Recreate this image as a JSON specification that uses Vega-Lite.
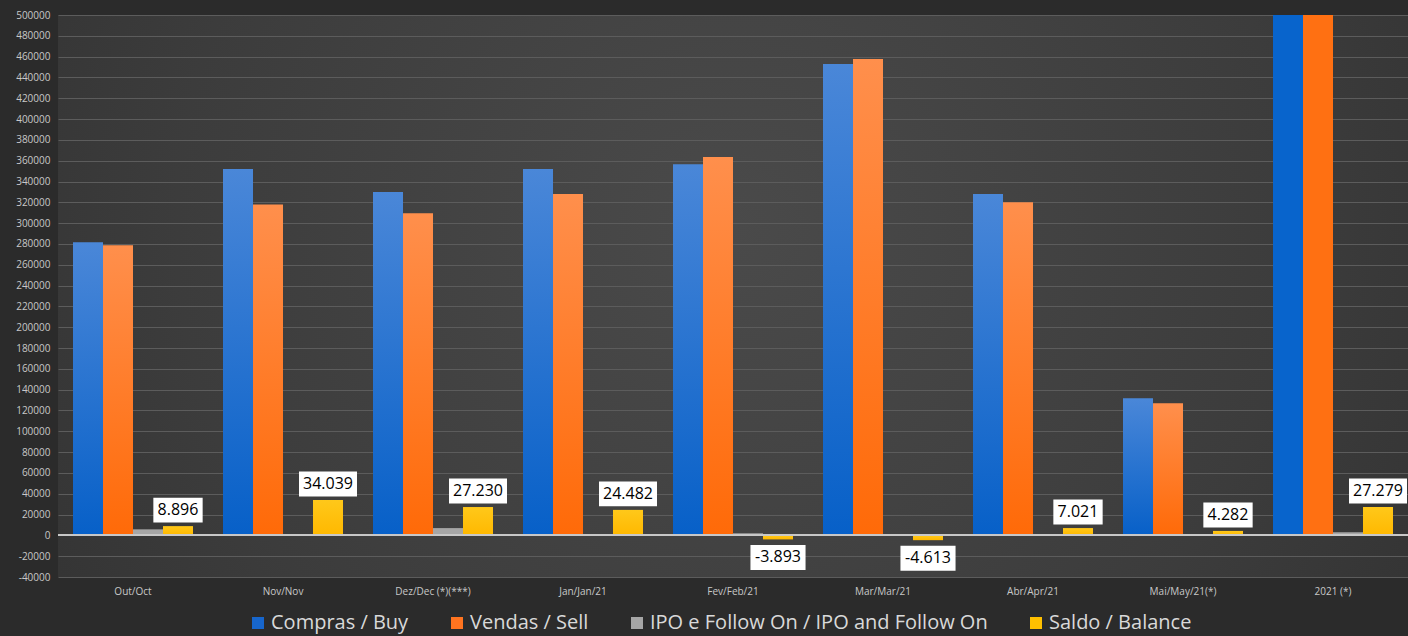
{
  "$schema": "https://vega.github.io/schema/vega-lite/v6.json",
  "width": 1350,
  "height": 562,
  "autosize": {"type": "none"},
  "padding": {"left": 58, "top": 15, "right": 0, "bottom": 59},
  "background": "#2b2b2b",
  "config": {
    "locale": {"number": {"decimal": ",", "thousands": ".", "grouping": [3], "currency": ["", ""], "minus": "-"}},
    "view": {
      "stroke": null,
      "fill": {"gradient": "radial", "x1": 0.5, "y1": 0.45, "r1": 0, "x2": 0.5, "y2": 0.45, "r2": 0.75,
        "stops": [{"offset": 0, "color": "#4a4a4a"}, {"offset": 0.55, "color": "#3c3c3c"}, {"offset": 1, "color": "#2c2c2c"}]}
    },
    "font": "Open Sans"
  },
  "data": {
    "values": [
      {"cat": "Out/Oct", "series": "Compras / Buy", "value": 281700},
      {"cat": "Out/Oct", "series": "Vendas / Sell", "value": 278800},
      {"cat": "Out/Oct", "series": "IPO e Follow On / IPO and Follow On", "value": 5800},
      {"cat": "Out/Oct", "series": "Saldo / Balance", "value": 8896},
      {"cat": "Nov/Nov", "series": "Compras / Buy", "value": 352000},
      {"cat": "Nov/Nov", "series": "Vendas / Sell", "value": 318000},
      {"cat": "Nov/Nov", "series": "IPO e Follow On / IPO and Follow On", "value": 0},
      {"cat": "Nov/Nov", "series": "Saldo / Balance", "value": 34039},
      {"cat": "Dez/Dec (*)(***)", "series": "Compras / Buy", "value": 330000},
      {"cat": "Dez/Dec (*)(***)", "series": "Vendas / Sell", "value": 309600},
      {"cat": "Dez/Dec (*)(***)", "series": "IPO e Follow On / IPO and Follow On", "value": 7000},
      {"cat": "Dez/Dec (*)(***)", "series": "Saldo / Balance", "value": 27230},
      {"cat": "Jan/Jan/21", "series": "Compras / Buy", "value": 352000},
      {"cat": "Jan/Jan/21", "series": "Vendas / Sell", "value": 328000},
      {"cat": "Jan/Jan/21", "series": "IPO e Follow On / IPO and Follow On", "value": 0},
      {"cat": "Jan/Jan/21", "series": "Saldo / Balance", "value": 24482},
      {"cat": "Fev/Feb/21", "series": "Compras / Buy", "value": 356700},
      {"cat": "Fev/Feb/21", "series": "Vendas / Sell", "value": 363500},
      {"cat": "Fev/Feb/21", "series": "IPO e Follow On / IPO and Follow On", "value": 2000},
      {"cat": "Fev/Feb/21", "series": "Saldo / Balance", "value": -3893},
      {"cat": "Mar/Mar/21", "series": "Compras / Buy", "value": 453000},
      {"cat": "Mar/Mar/21", "series": "Vendas / Sell", "value": 457700},
      {"cat": "Mar/Mar/21", "series": "IPO e Follow On / IPO and Follow On", "value": 0},
      {"cat": "Mar/Mar/21", "series": "Saldo / Balance", "value": -4613},
      {"cat": "Abr/Apr/21", "series": "Compras / Buy", "value": 328000},
      {"cat": "Abr/Apr/21", "series": "Vendas / Sell", "value": 320000},
      {"cat": "Abr/Apr/21", "series": "IPO e Follow On / IPO and Follow On", "value": 0},
      {"cat": "Abr/Apr/21", "series": "Saldo / Balance", "value": 7021},
      {"cat": "Mai/May/21(*)", "series": "Compras / Buy", "value": 131700},
      {"cat": "Mai/May/21(*)", "series": "Vendas / Sell", "value": 127000},
      {"cat": "Mai/May/21(*)", "series": "IPO e Follow On / IPO and Follow On", "value": 0},
      {"cat": "Mai/May/21(*)", "series": "Saldo / Balance", "value": 4282},
      {"cat": "2021 (*)", "series": "Compras / Buy", "value": 500000},
      {"cat": "2021 (*)", "series": "Vendas / Sell", "value": 500000},
      {"cat": "2021 (*)", "series": "IPO e Follow On / IPO and Follow On", "value": 3000},
      {"cat": "2021 (*)", "series": "Saldo / Balance", "value": 27279}
    ]
  },
  "encoding": {
    "x": {
      "field": "cat", "type": "nominal", "sort": null,
      "scale": {"paddingInner": 0.2, "paddingOuter": 0.1},
      "axis": {"title": null, "labelAngle": 0, "domain": false, "ticks": false, "labelColor": "#c8c8c8", "labelFontSize": 10, "labelPadding": 9, "labelFont": "Open Sans"}
    },
    "xOffset": {
      "field": "series", "type": "nominal",
      "scale": {"domain": ["Compras / Buy", "Vendas / Sell", "IPO e Follow On / IPO and Follow On", "Saldo / Balance"]}
    },
    "y": {
      "field": "value", "type": "quantitative",
      "scale": {"domain": [-40000, 500000], "nice": false, "zero": false},
      "axis": {
        "title": null, "format": "d", "domain": false, "ticks": false,
        "values": [-40000, -20000, 0, 20000, 40000, 60000, 80000, 100000, 120000, 140000, 160000, 180000, 200000, 220000, 240000, 260000, 280000, 300000, 320000, 340000, 360000, 380000, 400000, 420000, 440000, 460000, 480000, 500000],
        "gridColor": "#5c5c5c", "gridWidth": 1, "labelColor": "#c8c8c8", "labelFontSize": 10, "labelPadding": 8
      }
    }
  },
  "layer": [
    {
      "mark": {"type": "bar"},
      "encoding": {
        "color": {
          "field": "series", "type": "nominal",
          "scale": {
            "domain": ["Compras / Buy", "Vendas / Sell", "IPO e Follow On / IPO and Follow On", "Saldo / Balance"],
            "range": ["#1766cc", "#ff7420", "#a6a6a6", "#ffc000"]
          },
          "condition": [
            {"test": "datum.series == 'Compras / Buy' && datum.cat == '2021 (*)'", "value": "#0864cc"},
            {"test": "datum.series == 'Vendas / Sell' && datum.cat == '2021 (*)'", "value": "#ff7012"},
            {"test": "datum.series == 'Compras / Buy'", "value": {"gradient": "linear", "x1": 0, "y1": 0, "x2": 0, "y2": 1, "stops": [{"offset": 0, "color": "#4a87d8"}, {"offset": 1, "color": "#0760c8"}]}},
            {"test": "datum.series == 'Vendas / Sell'", "value": {"gradient": "linear", "x1": 0, "y1": 0, "x2": 0, "y2": 1, "stops": [{"offset": 0, "color": "#ff8f4c"}, {"offset": 1, "color": "#ff6a08"}]}},
            {"test": "datum.series == 'Saldo / Balance'", "value": {"gradient": "linear", "x1": 0, "y1": 0, "x2": 0, "y2": 1, "stops": [{"offset": 0, "color": "#ffc81a"}, {"offset": 1, "color": "#ffb800"}]}}
          ],
          "legend": {
            "title": null, "orient": "none", "direction": "horizontal", "columns": 4,
            "legendX": 190, "legendY": 598,
            "symbolType": "square", "symbolSize": 144, "symbolStrokeWidth": 0,
            "labelColor": "#d9d9d9", "labelFontSize": 20, "labelFont": "Open Sans",
            "labelOffset": 3, "columnPadding": 38, "labelLimit": 500
          }
        }
      }
    },
    {
      "mark": {"type": "rule", "color": "#c8c8c8", "strokeWidth": 1.5},
      "encoding": {"y": {"datum": 0}, "x": null, "xOffset": null}
    },
    {
      "transform": [{"filter": "datum.series == 'Saldo / Balance' && datum.value >= 0"}],
      "layer": [
        {
          "mark": {"type": "point", "filled": true, "fill": "#ffffff", "opacity": 1, "strokeWidth": 0, "size": 3364, "yOffset": -16},
          "encoding": {
            "shape": {
              "condition": {"test": "datum.value >= 10000", "value": "M-1,-0.43H1V0.43H-1Z"},
              "value": "M-0.85,-0.43H0.85V0.43H-0.85Z"
            }
          }
        },
        {
          "mark": {"type": "text", "color": "#000000", "fontSize": 16, "baseline": "middle", "yOffset": -16, "font": "Open Sans"},
          "encoding": {"text": {"field": "value", "type": "quantitative", "format": ",d"}}
        }
      ]
    },
    {
      "transform": [{"filter": "datum.series == 'Saldo / Balance' && datum.value < 0"}],
      "layer": [
        {
          "mark": {"type": "point", "filled": true, "fill": "#ffffff", "opacity": 1, "strokeWidth": 0, "size": 3364, "shape": "M-0.95,-0.43H0.95V0.43H-0.95Z", "yOffset": 18}
        },
        {
          "mark": {"type": "text", "color": "#000000", "fontSize": 16, "baseline": "middle", "yOffset": 18, "font": "Open Sans"},
          "encoding": {"text": {"field": "value", "type": "quantitative", "format": ",d"}}
        }
      ]
    }
  ]
}
